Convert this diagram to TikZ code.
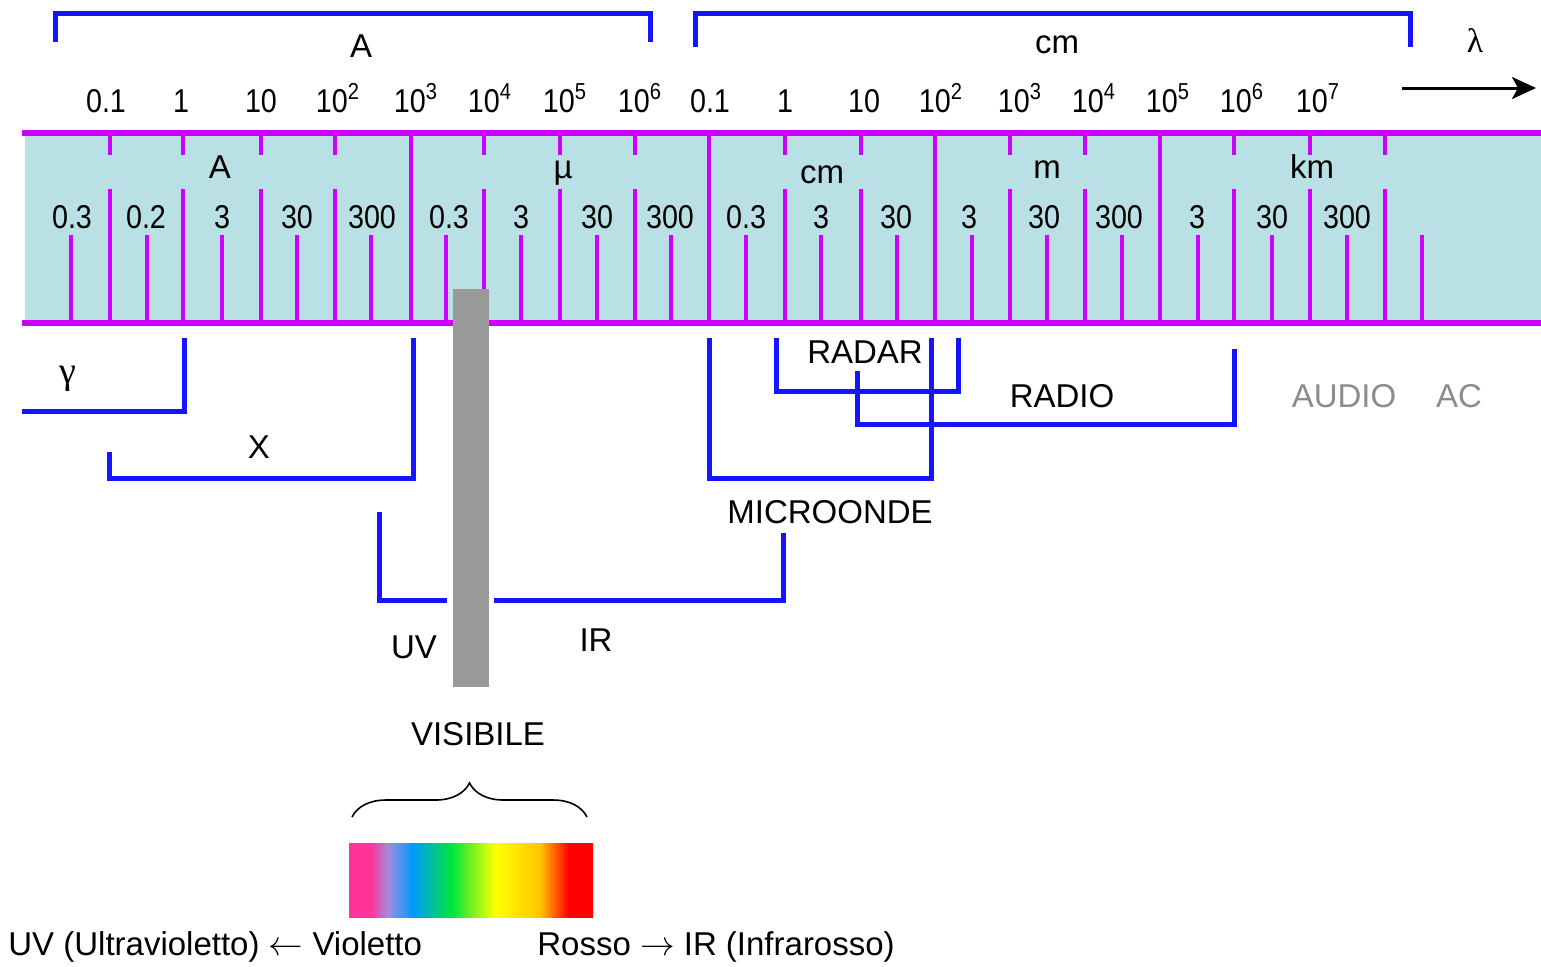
\documentclass[tikz,border=0pt]{standalone}
\usepackage{fontspec}
\setmainfont{Liberation Sans}
\newfontfamily\numfont{Liberation Sans}[FakeStretch=0.87]
\newfontfamily\grfont{Liberation Serif}
\usetikzlibrary{arrows.meta, decorations.pathreplacing}

\definecolor{bandcyan}{RGB}{185,224,228}
\definecolor{tickmag}{RGB}{204,0,255}
\definecolor{rangeblue}{RGB}{20,20,255}
\definecolor{visgray}{RGB}{153,153,153}
\definecolor{audiogray}{RGB}{140,140,140}
\definecolor{sppink}{RGB}{255,51,153}
\definecolor{splav}{RGB}{160,140,220}
\definecolor{spblue}{RGB}{0,153,255}
\definecolor{spgreen}{RGB}{0,230,60}
\definecolor{spyellow}{RGB}{255,255,0}
\definecolor{sporange}{RGB}{255,200,0}
\definecolor{spred}{RGB}{255,0,0}
\pgfdeclarehorizontalshading{spectrum}{100bp}{color(0bp)=(sppink); color(29.5bp)=(sppink);
  color(33bp)=(splav); color(38bp)=(spblue); color(46bp)=(spgreen); color(55bp)=(spyellow);
  color(64bp)=(sporange); color(70bp)=(spred); color(100bp)=(spred)}
\newcommand\pw[1]{10\textsuperscript{#1}}

\begin{document}
\begin{tikzpicture}[x=0.5pt, y=-0.5pt, >=Stealth,
  lbl/.style={font=\fontsize{16.5}{19}\selectfont, inner sep=0pt, anchor=base},
  num/.style={font=\numfont\fontsize{16.5}{19}\selectfont, inner sep=0pt, anchor=base},
  wband/.style={rangeblue, line width=2.5pt},
  tickline/.style={tickmag, line width=2pt}]
  \useasboundingbox (0,0) rectangle (1541,966);

  % top scale
  \draw[wband] (55,42) -- (55,13) -- (650,13) -- (650,42);
  \draw[wband] (695,47) -- (695,13) -- (1410,13) -- (1410,47);
  \node[lbl] (topA) at (361,57) {A};
  \node[lbl] (topcm) at (1057,53) {cm};
  \node[lbl, font=\grfont\fontsize{17}{19}\selectfont] (lambda) at (1475,52) {λ};
  \coordinate (arrS) at (1402,88);
  \coordinate (arrE) at (1536,88);
  \draw[->, line width=1.5pt, >={Stealth[length=12pt, width=11pt, inset=3pt]}] (arrS) -- (arrE);
  \foreach \x/\t [count=\i] in {106/0.1, 181/1, 261/10, 338/\pw2, 416/\pw3, 490/\pw4, 565/\pw5,
      640/\pw6, 710/0.1, 785/1, 864/10, 941/\pw2, 1020/\pw3, 1094/\pw4, 1168/\pw5, 1242/\pw6, 1318/\pw7}
    \node[num] (top\i) at (\x,112) {\t};

  % band
  \fill[bandcyan] (25,133) rectangle (1541,323);
  \foreach \x in {411,709,935,1160}
    \draw[tickline] (\x,133) -- (\x,323);
  \foreach \x in {110,183,261,335,484,560,635,785,861,1010,1085,1234,1310,1385} {
    \draw[tickline] (\x,133) -- (\x,155);
    \draw[tickline] (\x,189) -- (\x,323);
  }
  \foreach \x in {71,147,222,297,371,446,521,597,671,746,821,897,972,1047,1122,1198,1272,1347,1422}
    \draw[tickline] (\x,235) -- (\x,323);
  \draw[tickmag, line width=3pt] (22,133) -- (1541,133) (22,323) -- (1541,323);
  \foreach \x/\u/\y [count=\i] in {220/A/178, 563/µ/178, 822/cm/183, 1047/m/178, 1312/km/178}
    \node[lbl] (unit\i) at (\x,\y) {\u};
  \foreach \x/\t [count=\i] in {72/0.3, 146/0.2, 222/3, 297/30, 372/300, 449/0.3, 521/3, 597/30, 670/300,
      746/0.3, 821/3, 896/30, 969/3, 1044/30, 1119/300, 1197/3, 1272/30, 1347/300}
    \node[num] (val\i) at (\x,228) {\t};

  % visible bar
  \fill[visgray] (453,289) rectangle (489,687);

  % ranges
  \draw[wband] (22,411) -- (184,411) -- (184,338);
  \node[lbl, font=\grfont\fontsize{19}{21}\selectfont] (gamma) at (68,383) {γ};
  \draw[wband] (109,452) -- (109,478) -- (413,478) -- (413,338);
  \node[lbl] (xray) at (259,458) {X};
  \draw[wband] (379,512) -- (379,600) -- (447,600);
  \draw[wband] (494,600) -- (783,600) -- (783,533);
  \node[lbl] (uv) at (414,658) {UV};
  \node[lbl] (ir) at (596,651) {IR};
  \draw[wband] (709,338) -- (709,478) -- (931,478) -- (931,338);
  \node[lbl] (micro) at (830,523) {MICROONDE};
  \draw[wband] (776,338) -- (776,391) -- (958,391) -- (958,338);
  \node[lbl] (radar) at (865,363) {RADAR};
  \draw[wband] (857,371) -- (857,424) -- (1234,424) -- (1234,349);
  \node[lbl] (radio) at (1062,407) {RADIO};
  \node[lbl, audiogray] (audio) at (1344,407) {AUDIO};
  \node[lbl, audiogray] (ac) at (1459,407) {AC};

  % visible spectrum
  \node[lbl] (visible) at (478,745) {VISIBILE};
  \coordinate (brL) at (352,817);
  \coordinate (brR) at (587,817);
  \draw[line width=0.8pt, decorate, decoration={brace, amplitude=17pt}] (brL) -- (brR);
  \shade[shading=spectrum] (349,843) rectangle (593,917);
  \node[lbl, anchor=base west] (violet) at (8,955) {UV (Ultravioletto) $\leftarrow$ Violetto};
  \node[lbl, anchor=base west] (red) at (537,955) {Rosso $\rightarrow$ IR (Infrarosso)};
\end{tikzpicture}
\end{document}
